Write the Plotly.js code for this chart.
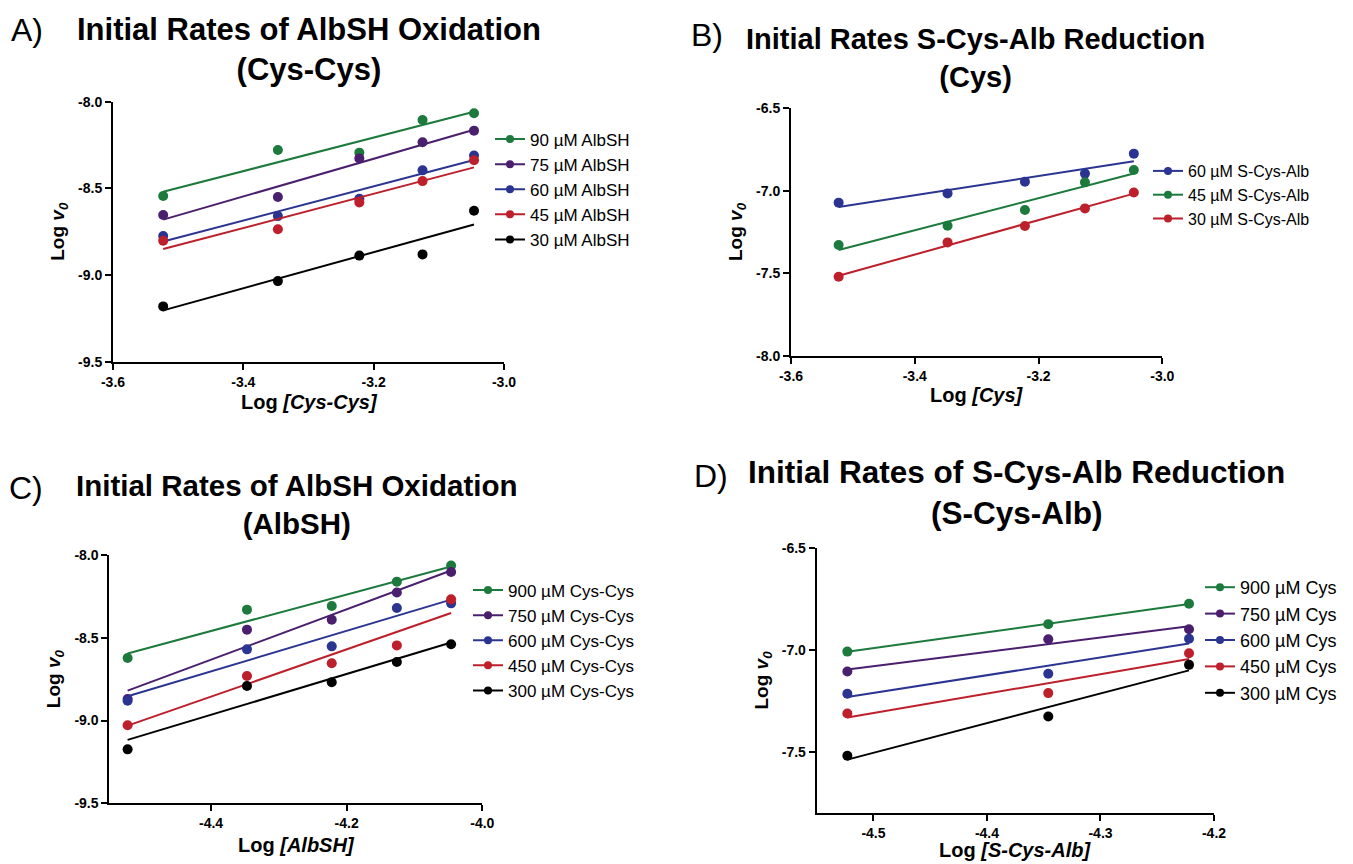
<!DOCTYPE html>
<html>
<head>
<meta charset="utf-8">
<script src="https://cdn.plot.ly/plotly-3.0.1.min.js"></script>
<style>html,body{margin:0;padding:0;background:#fff}#chart{width:1353px;height:864px}</style>
</head>
<body>
<div id="chart"></div>
<script>
// ---------- data ----------
// Panel A: x = Log [Cys-Cys]
const xA = [-3.523, -3.347, -3.222, -3.125, -3.046];
const namesA = ["90 µM AlbSH", "75 µM AlbSH", "60 µM AlbSH", "45 µM AlbSH", "30 µM AlbSH"];
const yA90 = [-8.544, -8.279, -8.294, -8.106, -8.067];
const yA75 = [-8.654, -8.550, -8.327, -8.234, -8.167];
const yA60 = [-8.775, -8.660, -8.560, -8.396, -8.311];
const yA45 = [-8.802, -8.736, -8.581, -8.458, -8.338];
const yA30 = [-9.181, -9.035, -8.888, -8.881, -8.629];

// Panel B: x = Log [Cys]
const xB = [-3.523, -3.347, -3.222, -3.125, -3.046];
const namesB = ["60 µM S-Cys-Alb", "45 µM S-Cys-Alb", "30 µM S-Cys-Alb"];
const yB60 = [-7.072, -7.016, -6.945, -6.896, -6.775];
const yB45 = [-7.329, -7.212, -7.117, -6.949, -6.874];
const yB30 = [-7.521, -7.313, -7.214, -7.107, -7.010];

// Panel C: x = Log [AlbSH]
const xC = [-4.523, -4.347, -4.222, -4.126, -4.046];
const namesC = ["900 µM Cys-Cys", "750 µM Cys-Cys", "600 µM Cys-Cys", "450 µM Cys-Cys", "300 µM Cys-Cys"];
const yC900 = [-8.622, -8.330, -8.308, -8.161, -8.064];
const yC750 = [-8.870, -8.451, -8.391, -8.227, -8.103];
const yC600 = [-8.880, -8.570, -8.552, -8.320, -8.292];
const yC450 = [-9.029, -8.731, -8.654, -8.546, -8.268];
const yC300 = [-9.174, -8.791, -8.769, -8.646, -8.539];

// Panel D: x = Log [S-Cys-Alb]
const xD = [-4.523, -4.346, -4.222];
const namesD = ["900 µM Cys", "750 µM Cys", "600 µM Cys", "450 µM Cys", "300 µM Cys"];
const yD900 = [-7.008, -6.873, -6.773];
const yD750 = [-7.106, -6.947, -6.898];
const yD600 = [-7.215, -7.117, -6.945];
const yD450 = [-7.312, -7.212, -7.016];
const yD300 = [-7.520, -7.327, -7.073];

// tick labels
const tickXA = ["-3.6", "-3.4", "-3.2", "-3.0"];
const tickYA = ["-9.5", "-9.0", "-8.5", "-8.0"];
const tickXB = ["-3.6", "-3.4", "-3.2", "-3.0"];
const tickYB = ["-8.0", "-7.5", "-7.0", "-6.5"];
const tickXC = ["-4.4", "-4.2", "-4.0"];
const tickYC = ["-9.5", "-9.0", "-8.5", "-8.0"];
const tickXD = ["-4.5", "-4.4", "-4.3", "-4.2"];
const tickYD = ["-7.5", "-7.0", "-6.5"];

// titles
const titleA = "Initial Rates of AlbSH Oxidation<br>(Cys-Cys)";
const titleB = "Initial Rates S-Cys-Alb Reduction<br>(Cys)";
const titleC = "Initial Rates of AlbSH Oxidation<br>(AlbSH)";
const titleD = "Initial Rates of S-Cys-Alb Reduction<br>(S-Cys-Alb)";
const xTitleA = "Log <i>[Cys-Cys]</i>";
const xTitleB = "Log <i>[Cys]</i>";
const xTitleC = "Log <i>[AlbSH]</i>";
const xTitleD = "Log <i>[S-Cys-Alb]</i>";
const yTitle = "Log <i>v<sub>0</sub></i>";

// ---------- styling ----------
const GREEN = "#1c7a3c", PURPLE = "#4a1f6e", BLUE = "#2b3591", RED = "#bd1f2b", BLACK = "#000000";
const BOLD = "Liberation Sans, Arial, sans-serif";
const NARROW = "Liberation Sans Narrow, Arial Narrow, Liberation Sans, sans-serif";

function fit(xs, ys) {
  const n = xs.length;
  const mx = xs.reduce((a, b) => a + b, 0) / n;
  const my = ys.reduce((a, b) => a + b, 0) / n;
  let sxy = 0, sxx = 0;
  for (let i = 0; i < n; i++) { sxy += (xs[i] - mx) * (ys[i] - my); sxx += (xs[i] - mx) ** 2; }
  const b = sxy / sxx, a = my - b * mx;
  const x0 = Math.min(...xs), x1 = Math.max(...xs);
  return { x: [x0, x1], y: [a + b * x0, a + b * x1] };
}

const traces = [];
function addSeries(xs, ys, name, color, xa, ya, leg) {
  const f = fit(xs, ys);
  traces.push({ x: f.x, y: f.y, mode: "lines", line: { color: color, width: 2 }, xaxis: xa, yaxis: ya, showlegend: false, hoverinfo: "skip" });
  traces.push({ x: xs, y: ys, mode: "markers", marker: { color: color, size: 10 }, xaxis: xa, yaxis: ya, showlegend: false, cliponaxis: false });
  traces.push({ x: [null], y: [null], mode: "lines+markers", name: name, line: { color: color, width: 2 }, marker: { color: color, size: 8 }, xaxis: xa, yaxis: ya, legend: leg, showlegend: true });
}

addSeries(xA, yA90, namesA[0], GREEN, "x", "y", "legend");
addSeries(xA, yA75, namesA[1], PURPLE, "x", "y", "legend");
addSeries(xA, yA60, namesA[2], BLUE, "x", "y", "legend");
addSeries(xA, yA45, namesA[3], RED, "x", "y", "legend");
addSeries(xA, yA30, namesA[4], BLACK, "x", "y", "legend");

addSeries(xB, yB60, namesB[0], BLUE, "x2", "y2", "legend2");
addSeries(xB, yB45, namesB[1], GREEN, "x2", "y2", "legend2");
addSeries(xB, yB30, namesB[2], RED, "x2", "y2", "legend2");

addSeries(xC, yC900, namesC[0], GREEN, "x3", "y3", "legend3");
addSeries(xC, yC750, namesC[1], PURPLE, "x3", "y3", "legend3");
addSeries(xC, yC600, namesC[2], BLUE, "x3", "y3", "legend3");
addSeries(xC, yC450, namesC[3], RED, "x3", "y3", "legend3");
addSeries(xC, yC300, namesC[4], BLACK, "x3", "y3", "legend3");

addSeries(xD, yD900, namesD[0], GREEN, "x4", "y4", "legend4");
addSeries(xD, yD750, namesD[1], PURPLE, "x4", "y4", "legend4");
addSeries(xD, yD600, namesD[2], BLUE, "x4", "y4", "legend4");
addSeries(xD, yD450, namesD[3], RED, "x4", "y4", "legend4");
addSeries(xD, yD300, namesD[4], BLACK, "x4", "y4", "legend4");

const W = 1353, H = 864;
const px = v => v / W, py = v => 1 - v / H;

function axis(domain, range, tickTexts, anchor, title) {
  const vals = tickTexts.map(Number);
  const a = {
    domain: domain, range: range, anchor: anchor,
    showline: true, linecolor: "#000", linewidth: 2, mirror: false,
    showgrid: false, zeroline: false,
    ticks: "outside", ticklen: 6, tickwidth: 2, tickcolor: "#000",
    tickvals: vals, ticktext: tickTexts,
    tickfont: { family: BOLD, size: 14, color: "#000", weight: "bold" }
  };
  if (title) a.title = { text: title, font: { family: BOLD, size: 19, color: "#000", weight: "bold" } };
  return a;
}

function leg(x, y, size) {
  return { x: px(x), y: py(y), xanchor: "left", yanchor: "top",
    font: { family: BOLD, size: size, color: "#000" },
    bgcolor: "rgba(0,0,0,0)", borderwidth: 0, tracegroupgap: 0, itemclick: false };
}

const labelFont = { family: NARROW, size: 32, color: "#000" };
function tf(size) { return { family: NARROW, size: size, color: "#000", weight: "bold" }; }
const xTitleFont = { family: BOLD, size: 20, color: "#000", weight: "bold" };
function ann(text, x, y, font) {
  return { text: text, xref: "paper", yref: "paper", x: px(x), y: py(y), xanchor: "center", yanchor: "middle", showarrow: false, font: font };
}

const layout = {
  width: W, height: H,
  margin: { l: 0, r: 0, t: 0, b: 0 },
  paper_bgcolor: "#fff", plot_bgcolor: "#fff",
  xaxis: axis([px(113), px(504)], [-3.6, -3.0], tickXA, "y"),
  yaxis: axis([py(361.7), py(101.7)], [-9.5, -8.0], tickYA, "x", yTitle),
  xaxis2: axis([px(791), px(1162.3)], [-3.6, -3.0], tickXB, "y2"),
  yaxis2: axis([py(355.7), py(108.3)], [-8.0, -6.5], tickYB, "x2", yTitle),
  xaxis3: axis([px(109.3), px(482.3)], [-4.55, -4.0], tickXC, "y3"),
  yaxis3: axis([py(803.3), py(555)], [-9.5, -8.0], tickYC, "x3", yTitle),
  xaxis4: axis([px(816.7), px(1214)], [-4.55, -4.2], tickXD, "y4"),
  yaxis4: axis([py(812.7), py(548.3)], [-7.8, -6.5], tickYD, "x4", yTitle),
  legend: leg(490, 121.5, 17),
  legend2: leg(1148, 154, 16),
  legend3: leg(468, 572.5, 17),
  legend4: leg(1200, 569, 18),
  annotations: [
    ann("A)", 27, 30, labelFont),
    ann(titleA, 309, 49, tf(31)),
    ann("B)", 707, 35, labelFont),
    ann(titleB, 976, 58, tf(29)),
    ann("C)", 26, 488, labelFont),
    ann(titleC, 296, 504, tf(29.5)),
    ann("D)", 711, 476, labelFont),
    ann(titleD, 1016, 492, tf(31.5)),
    ann(xTitleA, 309, 402, xTitleFont),
    ann(xTitleB, 977, 395, xTitleFont),
    ann(xTitleC, 296, 845, xTitleFont),
    ann(xTitleD, 1015, 850, xTitleFont)
  ],
  showlegend: true
};

Plotly.newPlot("chart", traces, layout, { staticPlot: true, displayModeBar: false });
</script>
</body>
</html>
